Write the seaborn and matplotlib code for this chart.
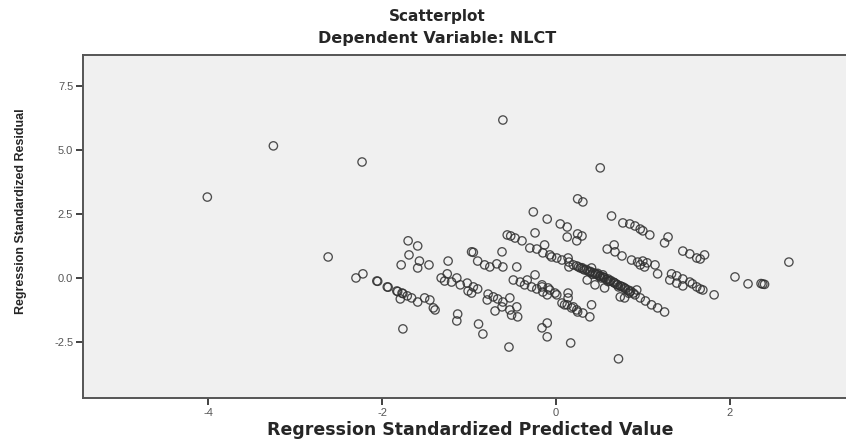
import pandas as pd
import seaborn as sns
import matplotlib.pyplot as plt

# values
outlier_x = [-4.01, -3.25, -2.23, -0.61, 0.51, -2.62, -1.76, 0.72, -0.54, 0.17,
             2.68, 2.06, 2.21, 2.36, 2.38, 2.40, 0.25, 0.31]
outlier_y = [3.16, 5.16, 4.53, 6.17, 4.30, 0.82, -1.99, -3.16, -2.70, -2.54,
             0.62, 0.04, -0.23, -0.22, -0.24, -0.25, 3.09, 2.97]

left_x = [-2.30, -2.22, -1.70, -1.59, -1.69, -1.57, -1.78, -1.59, -1.46,
          -2.06, -2.05, -1.94, -1.93, -1.83, -1.82, -1.77, -1.76, -1.71, -1.66, -1.79, -1.59, -1.51, -1.45, -1.41, -1.39,
          -1.13, -1.14, -0.89, -0.84,
          -1.24, -0.97, -0.95, -0.90, -0.82, -0.76, -0.68, -0.61, -0.45, -0.62,
          -1.32, -1.25, -1.28, -1.20, -1.14, -1.10, -1.02, -0.95, -0.90, -1.01, -0.97, -0.78, -0.72, -0.79, -0.67,
          -0.61, -0.53, -0.70, -0.62, -0.53, -0.45, -0.51, -0.44]
left_y = [0.00, 0.16, 1.45, 1.25, 0.90, 0.66, 0.51, 0.39, 0.51,
          -0.12, -0.13, -0.35, -0.36, -0.51, -0.53, -0.59, -0.61, -0.70, -0.78, -0.82, -0.94, -0.78, -0.86, -1.17, -1.25,
          -1.41, -1.68, -1.80, -2.19,
          0.66, 1.02, 1.00, 0.66, 0.51, 0.43, 0.55, 0.43, 0.43, 1.02,
          0.00, 0.16, -0.12, -0.16, 0.00, -0.27, -0.20, -0.35, -0.43, -0.51, -0.59, -0.63, -0.74, -0.86, -0.82,
          -0.94, -0.78, -1.29, -1.13, -1.25, -1.13, -1.45, -1.52]

upper_x = [-0.56, -0.52, -0.47, -0.39, -0.24, -0.26, -0.10, -0.30, -0.22, -0.13, -0.15, -0.07,
           0.05, 0.13, 0.25, 0.30, 0.13, 0.24]
upper_y = [1.68, 1.64, 1.56, 1.45, 1.76, 2.58, 2.30, 1.17, 1.13, 1.29, 0.98, 0.90,
           2.11, 1.99, 1.72, 1.64, 1.60, 1.45]

band_x = [-0.05, 0.01, 0.07, 0.14, 0.15, 0.20, 0.24, 0.28, 0.31, 0.33, 0.37, 0.39, 0.43, 0.45, 0.48,
          0.51, 0.54, 0.56, 0.60, 0.62, 0.66, 0.68, 0.71, 0.74, 0.77, 0.79, 0.83, 0.85, 0.89, 0.91,
          0.41, 0.54, 0.93, 0.36, 0.45, 0.56, 0.74, 0.79, 0.15,
          0.97, 1.03, 1.10, 1.17, 1.25,
          0.30, 0.35, 0.40, 0.46, 0.50, 0.55, 0.58, 0.63, 0.67, 0.70, 0.75, 0.80, 0.86, 0.42, 0.52,
          0.60, 0.72, 0.84, 0.26, 0.48]
band_y = [0.82, 0.78, 0.70, 0.78, 0.62, 0.51, 0.47, 0.39, 0.35, 0.31, 0.27, 0.23, 0.20, 0.16, 0.12,
          0.08, 0.04, 0.00, -0.04, -0.12, -0.16, -0.20, -0.27, -0.31, -0.35, -0.39, -0.47, -0.55, -0.59, -0.66,
          0.39, 0.12, -0.47, -0.08, -0.27, -0.39, -0.74, -0.78, 0.43,
          -0.78, -0.90, -1.05, -1.17, -1.33,
          0.40, 0.33, 0.25, 0.17, 0.06, 0.02, -0.06, -0.10, -0.19, -0.25, -0.33, -0.42, -0.51, 0.14, 0.00,
          -0.14, -0.35, -0.60, 0.43, 0.18]

right_x = [0.64, 0.77, 0.85, 0.91, 0.97, 1.00, 1.08, 1.29, 1.25, 1.46, 1.54, 1.62, 1.66, 1.71,
           0.59, 0.67, 0.68, 0.76, 0.87, 0.94, 1.00, 1.05, 0.97, 1.02, 1.14, 1.17, 1.33, 1.39,
           1.46, 1.31, 1.39, 1.46, 1.54, 1.57, 1.62, 1.66, 1.69, 1.82]
right_y = [2.42, 2.15, 2.11, 2.03, 1.91, 1.84, 1.68, 1.60, 1.37, 1.05, 0.94, 0.78, 0.74, 0.90,
           1.13, 1.29, 1.02, 0.86, 0.70, 0.62, 0.66, 0.59, 0.51, 0.43, 0.51, 0.16, 0.16, 0.08,
           -0.04, -0.08, -0.20, -0.31, -0.16, -0.23, -0.35, -0.43, -0.47, -0.66]

lower_x = [-0.49, -0.41, -0.33, -0.24, -0.36, -0.28, -0.22, -0.15, -0.09, -0.16, -0.07, 0.01,
           0.07, 0.13, 0.18, 0.24, 0.31, 0.41, 0.39, 0.14, -0.16, -0.01, -0.10, 0.14, 0.10,
           0.20, 0.25, -0.10, -0.16, -0.10]
lower_y = [-0.08, -0.16, -0.08, 0.12, -0.27, -0.35, -0.43, -0.55, -0.39, -0.27, -0.47, -0.66,
           -0.98, -1.05, -1.17, -1.25, -1.37, -1.05, -1.52, -0.59, -0.35, -0.59, -0.66, -0.78, -1.05,
           -1.13, -1.33, -1.76, -1.95, -2.30]

xs = outlier_x + left_x + upper_x + band_x + right_x + lower_x
ys = outlier_y + left_y + upper_y + band_y + right_y + lower_y
df = pd.DataFrame({'pred': xs, 'resid': ys})

sns.set_style('white', {'axes.facecolor': '#f0f0f0', 'axes.edgecolor': '#555555'})
plt.rcParams['font.family'] = ['Liberation Sans', 'DejaVu Sans']
plt.rcParams['axes.unicode_minus'] = False

fig = plt.figure(figsize=(8.46, 4.43), dpi=100)
ax = fig.add_axes([83 / 846, 45 / 443, 765 / 846, 343 / 443])

sns.scatterplot(data=df, x='pred', y='resid', ax=ax, marker='o', s=36,
                facecolor='none', edgecolor='#303030', linewidth=0.95, alpha=0.85)

ax.set_xlim(-5.44, 3.36)
ax.set_ylim(-4.69, 8.71)
ax.set_xticks([-4, -2, 0, 2])
ax.set_yticks([-2.5, 0.0, 2.5, 5.0, 7.5])
ax.set_yticklabels(['-2.5', '0.0', '2.5', '5.0', '7.5'])
ax.tick_params(axis='both', direction='out', length=5, width=1.3, color='#333333',
               labelsize=8, labelcolor='#555555', left=True, bottom=True, pad=2)
for side in ['left', 'bottom', 'top']:
    ax.spines[side].set_linewidth(1.4)
ax.spines['right'].set_visible(False)

ax.set_xlabel('')
ax.set_ylabel('')
fig.text(470 / 846, 1 - 430 / 443, 'Regression Standardized Predicted Value',
         ha='center', va='center', fontsize=12.5, fontweight='bold', family='DejaVu Sans')
fig.text(21 / 846, 1 - 211 / 443, 'Regression Standardized Residual',
         ha='center', va='center', rotation=90, fontsize=9, fontweight='bold',
         family=['Liberation Sans Narrow', 'Liberation Sans'])
fig.text(437 / 846, 1 - 16 / 443, 'Scatterplot', ha='center', va='center',
         fontsize=11, fontweight='bold', family='DejaVu Sans')
fig.text(437 / 846, 1 - 38 / 443, 'Dependent Variable: NLCT', ha='center', va='center',
         fontsize=11.5, fontweight='bold', family='DejaVu Sans')

fig.savefig('out.png', dpi=100, facecolor='white')
